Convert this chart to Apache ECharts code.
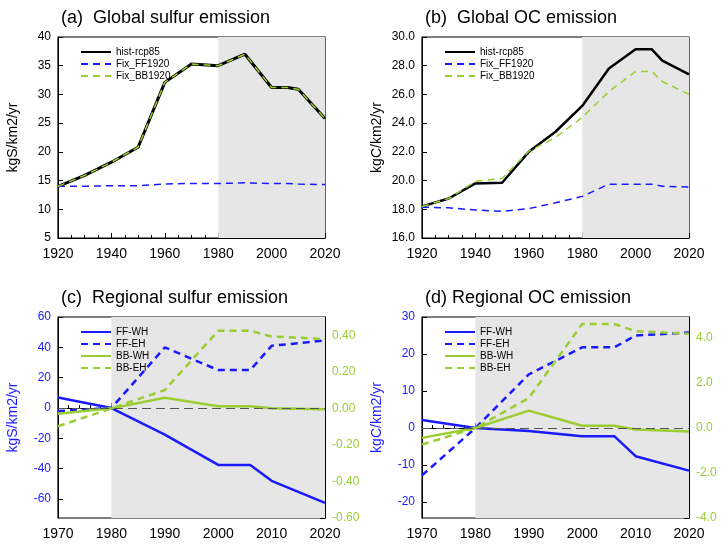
<!DOCTYPE html>
<html>
<head>
<meta charset="utf-8">
<script src="https://cdn.jsdelivr.net/npm/echarts@6/dist/echarts.min.js"></script>
<style>html,body{margin:0;padding:0;background:#fff}#main{width:727px;height:546px}</style>
</head>
<body>
<div id="main"></div>
<script>
// years for global panels (a, b)
const yearsG = [1920, 1930, 1940, 1950, 1960, 1970, 1980, 1990, 2000, 2006, 2010, 2020];
// panel (a) sulfur
const sHist = [14.0, 15.9, 18.2, 20.8, 32.1, 35.3, 35.0, 37.0, 31.2, 31.2, 30.9, 25.8];
const sFF = [14.0, 14.0, 14.1, 14.1, 14.4, 14.5, 14.5, 14.6, 14.5, 14.5, 14.4, 14.3];
const sBB = [14.0, 15.9, 18.2, 20.8, 32.1, 35.3, 35.0, 37.0, 31.2, 31.2, 30.9, 25.8];
// panel (b) OC
const oHist = [18.2, 18.75, 19.8, 19.85, 22.0, 23.4, 25.2, 27.8, 29.15, 29.15, 28.35, 27.4];
const oFF = [18.15, 18.1, 17.95, 17.85, 18.05, 18.45, 18.9, 19.75, 19.75, 19.75, 19.6, 19.55];
const oBB = [18.2, 18.75, 19.95, 20.15, 22.05, 23.0, 24.4, 26.2, 27.6, 27.6, 26.9, 26.0];
// years for regional panels (c, d)
const yearsR = [1970, 1980, 1990, 2000, 2006, 2010, 2020];
// panel (c) regional sulfur
const cFFWH = [7, 0, -17.5, -37.5, -37.5, -48, -62.5];
const cFFEH = [-2, 0, 40, 25, 25, 41, 44.5];
const cBBWH = [-0.029, 0, 0.058, 0.011, 0.011, 0.0, -0.005];
const cBBEH = [-0.098, 0, 0.10, 0.425, 0.425, 0.393, 0.38];
// panel (d) regional OC
const dFFWH = [2.2, 0, -0.8, -2.2, -2.2, -7.6, -11.5];
const dFFEH = [-12.8, 0, 14.5, 21.8, 21.8, 25, 25.8];
const dBBWH = [-0.44, 0, 0.77, 0.1, 0.1, -0.07, -0.16];
const dBBEH = [-0.74, 0, 1.33, 4.62, 4.62, 4.3, 4.19];

const BLUE = '#1a1aff', GREEN = '#9acd32', FONT = 'Liberation Sans';
const pair = (xs, ys) => xs.map((x, i) => [x, ys[i]]);

const grids = [
  {left: 58, top: 37, width: 267, height: 201},
  {left: 422, top: 37, width: 267, height: 201},
  {left: 58, top: 317, width: 267, height: 201},
  {left: 422, top: 317, width: 267, height: 201}
].map(g => Object.assign(g, {show: true, borderColor: '#000', borderWidth: 1.2, backgroundColor: 'transparent'}));

const tickStyle = {inside: true, length: 5, lineStyle: {color: '#000'}};
const minorStyle = {show: true, length: 3, lineStyle: {color: '#000'}};
function xAx(i, min, max, interval, split) {
  return {type: 'value', gridIndex: i, min, max, interval,
    axisLine: {lineStyle: {color: '#000'}}, axisTick: tickStyle,
    minorTick: Object.assign({splitNumber: split}, minorStyle),
    splitLine: {show: false},
    axisLabel: {color: '#000', fontSize: 14, fontFamily: FONT, margin: 9, formatter: v => String(v)}};
}
function yAx(i, min, max, vals, fmt, color, name, pos) {
  return {type: 'value', gridIndex: i, min, max, position: pos || 'left',
    name, nameLocation: 'middle', nameGap: 38, nameRotate: 90,
    nameTextStyle: {color: color, fontSize: 14, fontFamily: FONT},
    axisLine: {show: true, lineStyle: {color: '#000'}},
    axisTick: Object.assign({customValues: vals}, tickStyle),
    splitLine: {show: false},
    axisLabel: {customValues: vals, formatter: fmt, color: color, fontSize: 12, fontFamily: FONT, margin: 7}};
}
function line(name, xi, yi, data, color, dashed, width) {
  return {name, type: 'line', xAxisIndex: xi, yAxisIndex: yi, data, symbol: 'none',
    lineStyle: {color, width: width || 2.5, type: dashed ? [7, 5] : 'solid'},
    itemStyle: {color}, z: 3};
}
const shade = (xi, yi) => ({type: 'line', xAxisIndex: xi, yAxisIndex: yi, data: [], silent: true,
  markArea: {silent: true, itemStyle: {color: '#e6e6e6'}, data: [[{xAxis: 1980}, {xAxis: 2020}]]}, z: 1});
const zero = (xi, yi) => ({type: 'line', xAxisIndex: xi, yAxisIndex: yi, data: [], silent: true,
  markLine: {silent: true, symbol: 'none', label: {show: false}, lineStyle: {color: '#555', type: [9, 5], width: 1},
    data: [[{coord: [1970, 0]}, {coord: [2020, 0]}]]}, z: 2});

const rng = (a, b, s) => { const r = []; for (let v = a; v <= b + 1e-9; v += s) r.push(+v.toFixed(4)); return r; };

const legend = (left, top, names) => ({left, top, orient: 'vertical', itemWidth: 30, itemHeight: 8, itemGap: 2,
  itemStyle: {opacity: 0},
  textStyle: {fontSize: 10, fontFamily: FONT, color: '#000'}, data: names, selectedMode: false});

const option = {
  animation: false,
  grid: grids,
  title: [
    {text: '(a)  Global sulfur emission', left: 56, top: 4},
    {text: '(b)  Global OC emission', left: 420, top: 4},
    {text: '(c)  Regional sulfur emission', left: 56, top: 284},
    {text: '(d) Regional OC emission', left: 420, top: 284}
  ].map(t => Object.assign(t, {textStyle: {fontSize: 18, fontWeight: 'normal', fontFamily: FONT, color: '#000'}})),
  legend: [
    legend(75, 42, ['hist-rcp85', 'Fix_FF1920', 'Fix_BB1920']),
    legend(439, 42, ['hist-rcp85 ', 'Fix_FF1920 ', 'Fix_BB1920 ']),
    legend(75, 322, ['FF-WH', 'FF-EH', 'BB-WH', 'BB-EH']),
    legend(439, 322, ['FF-WH ', 'FF-EH ', 'BB-WH ', 'BB-EH '])
  ],
  xAxis: [xAx(0, 1920, 2020, 20, 4), xAx(1, 1920, 2020, 20, 4), xAx(2, 1970, 2020, 10, 5), xAx(3, 1970, 2020, 10, 5)],
  yAxis: [
    yAx(0, 5, 40, rng(5, 40, 5), v => v, '#000', 'kgS/km2/yr'),
    yAx(1, 16, 30, rng(16, 30, 2), v => v.toFixed(1), '#000', 'kgC/km2/yr'),
    yAx(2, -72.5, 60, rng(-60, 60, 20), v => v, BLUE, 'kgS/km2/yr'),
    yAx(2, -0.6, 0.5, rng(-0.6, 0.4, 0.2), v => v.toFixed(2), GREEN, '', 'right'),
    yAx(3, -24.3, 30, rng(-20, 30, 10), v => v, BLUE, 'kgC/km2/yr'),
    yAx(3, -4, 4.93, rng(-4, 4, 2), v => v.toFixed(1), GREEN, '', 'right')
  ],
  series: [
    shade(0, 0), shade(1, 1), shade(2, 2), shade(3, 4), zero(2, 2), zero(3, 4),
    line('hist-rcp85', 0, 0, pair(yearsG, sHist), '#000', false, 3),
    line('Fix_FF1920', 0, 0, pair(yearsG, sFF), BLUE, true, 1.5),
    line('Fix_BB1920', 0, 0, pair(yearsG, sBB), GREEN, true, 1.5),
    line('hist-rcp85 ', 1, 1, pair(yearsG, oHist), '#000', false, 2.5),
    line('Fix_FF1920 ', 1, 1, pair(yearsG, oFF), BLUE, true, 1.5),
    line('Fix_BB1920 ', 1, 1, pair(yearsG, oBB), GREEN, true, 1.5),
    line('FF-WH', 2, 2, pair(yearsR, cFFWH), BLUE, false),
    line('FF-EH', 2, 2, pair(yearsR, cFFEH), BLUE, true),
    line('BB-WH', 2, 3, pair(yearsR, cBBWH), GREEN, false),
    line('BB-EH', 2, 3, pair(yearsR, cBBEH), GREEN, true),
    line('FF-WH ', 3, 4, pair(yearsR, dFFWH), BLUE, false),
    line('FF-EH ', 3, 4, pair(yearsR, dFFEH), BLUE, true),
    line('BB-WH ', 3, 5, pair(yearsR, dBBWH), GREEN, false),
    line('BB-EH ', 3, 5, pair(yearsR, dBBEH), GREEN, true)
  ]
};
const chart = echarts.init(document.getElementById('main'));
chart.setOption(option);
</script>
</body>
</html>
